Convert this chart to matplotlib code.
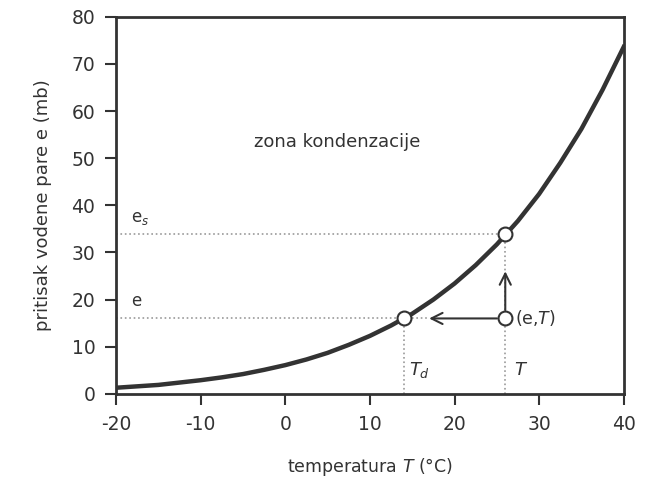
import matplotlib
matplotlib.use("Agg")
import matplotlib.pyplot as plt

# saturation vapour pressure curve
temp = [-20, -17.5, -15, -12.5, -10, -7.5, -5, -2.5, 0, 2.5, 5, 7.5, 10, 12.5,
        15, 17.5, 20, 22.5, 25, 27.5, 30, 32.5, 35, 37.5, 40]
e_sat = [1.3, 1.6, 1.9, 2.4, 2.9, 3.5, 4.2, 5.1, 6.1, 7.3, 8.7, 10.4, 12.3, 14.5,
         17.0, 20.0, 23.4, 27.3, 31.7, 36.7, 42.4, 49.0, 56.2, 64.5, 73.6]

# example state
T_air = 26
T_dew = 14
e_act = 16
e_s = 34
arrow_left_end = 17
arrow_up_end = 26

xticks = [-20, -10, 0, 10, 20, 30, 40]
yticks = [0, 10, 20, 30, 40, 50, 60, 70, 80]

ink = "#333333"
grid_c = "#9a9a9a"

plt.rcParams['font.family'] = ['DejaVu Sans']
plt.rcParams['axes.unicode_minus'] = False

fig = plt.figure(figsize=(6.45, 4.78), dpi=100)
ax = fig.add_axes([0.18, 0.176, 0.787, 0.789])

ax.plot(temp, e_sat, color=ink, lw=3.2, zorder=3)

# dotted guide lines
ax.plot([-20, T_air], [e_s, e_s], ls=":", color=grid_c, lw=1.2, zorder=1)
ax.plot([-20, arrow_left_end], [e_act, e_act], ls=":", color=grid_c, lw=1.2, zorder=1)
ax.plot([T_dew, T_dew], [0, e_act], ls=":", color=grid_c, lw=1.2, zorder=1)
ax.plot([T_air, T_air], [0, e_s], ls=":", color=grid_c, lw=1.2, zorder=1)

# arrows
ax.annotate("", xy=(arrow_left_end, e_act), xytext=(T_air, e_act),
            arrowprops=dict(arrowstyle="->", color=ink, lw=1.5,
                            mutation_scale=20, shrinkA=6, shrinkB=0))
ax.annotate("", xy=(T_air, arrow_up_end), xytext=(T_air, e_act),
            arrowprops=dict(arrowstyle="->", color=ink, lw=1.5,
                            mutation_scale=20, shrinkA=6, shrinkB=0))

# open circles
ax.plot([T_dew, T_air, T_air], [e_act, e_s, e_act], "o", ms=10,
        mfc="white", mec=ink, mew=1.5, zorder=5)

ax.text(6.1, 53.5, "zona kondenzacije", ha="center", va="center",
        fontsize=13, color=ink)
ax.text(-18.2, 35.3, r"e$_s$", fontsize=12, color=ink, va="bottom")
ax.text(-18.2, 17.8, "e", fontsize=12, color=ink, va="bottom")
ax.text(14.6, 5, r"$T_d$", fontsize=13, color=ink, va="center")
ax.text(27.0, 5, r"$T$", fontsize=13, color=ink, va="center")
ax.text(27.2, e_act, "(e,$T$)", fontsize=12.5, color=ink, va="center")

ax.set_xlim(-20, 40)
ax.set_ylim(0, 80)
ax.set_xticks(xticks)
ax.set_yticks(yticks)
ax.tick_params(direction="out", length=8, width=1.5, colors=ink,
               labelsize=13.5, pad=7)
for s in ax.spines.values():
    s.set_color(ink)
    s.set_linewidth(2)

ax.set_xlabel("temperatura $T$ (°C)", fontsize=12.5, color=ink, labelpad=16)
ax.set_ylabel("pritisak vodene pare e (mb)", fontsize=13, color=ink, labelpad=14)

fig.savefig("out.png", dpi=100)
